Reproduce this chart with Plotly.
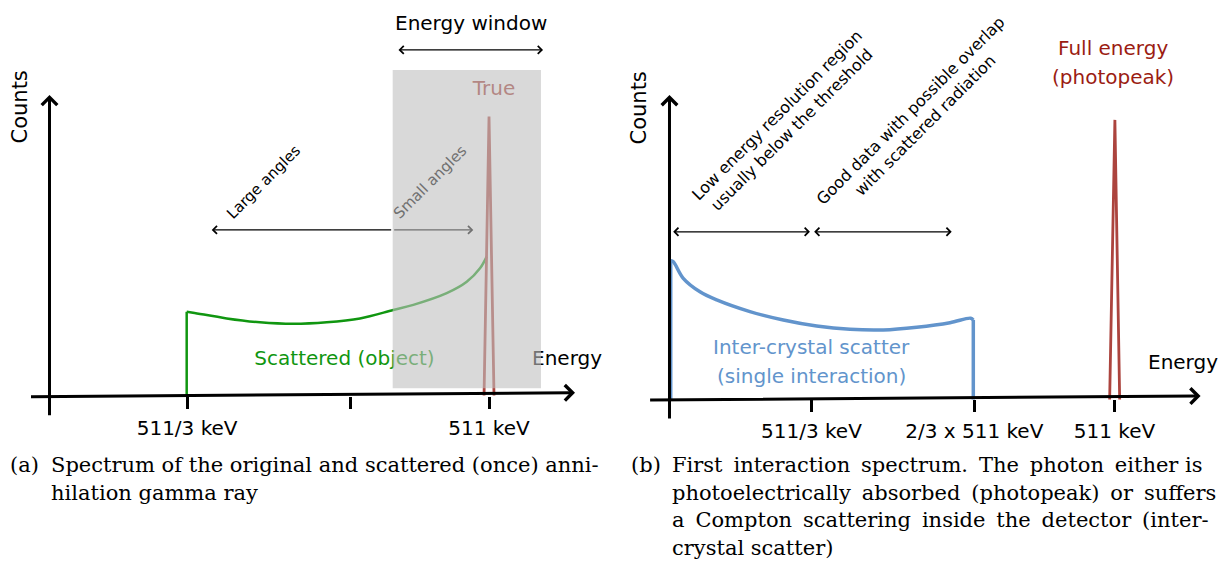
import plotly.graph_objects as go

# ---------------- data ----------------
# (a) scattered-in-object spectrum (energy in keV, counts in arbitrary units)
scatter_energy = [159.5, 159.5, 166.8, 206.0, 244.7, 283.5, 322.3, 361.0, 399.7, 423.0, 461.8, 485.1, 500.5, 508.3]
scatter_counts = [0, 27.9, 27.6, 25.7, 24.4, 23.9, 24.4, 25.7, 28.5, 30.2, 34.1, 37.9, 42.4, 46.3]
true_energy = [505.2, 511.0, 516.8]
true_counts = [0, 93, 0]
ticks_a = [160, 350, 511]
ticklabels_a = ["511/3 keV", "", "511 keV"]
window_a = [399.0, 571.4]          # energy window (keV)

# (b) first interaction spectrum
ict_energy = [1.4, 1.4, 4.4, 15.8, 35.0, 54.2, 92.4, 130.7, 169.0, 207.3, 245.5, 283.9, 322.1, 345.9, 348.9, 348.9]
ict_counts = [0, 46.3, 45.9, 40.4, 35.9, 33.2, 29.3, 26.5, 24.5, 23.4, 23.2, 24.1, 25.6, 27.1, 26.5, 0]
photo_energy = [505.5, 511.5, 517.0]
photo_counts = [0, 93.2, 0]
ticks_b = [163, 350, 511]
ticklabels_b = ["511/3 keV", "2/3 x 511 keV", "511 keV"]

# ---------------- styles ----------------
W, H = 1220, 554        # page body has an 8px margin
OFF = 8
SANS = "DejaVu Sans"
SERIF = "DejaVu Serif"
GREEN = "rgb(16,150,16)"
BLUE = "rgb(98,148,204)"
RED = "rgb(172,68,62)"
DARKRED = "rgb(155,28,18)"
GREY_TXT = "rgb(112,112,112)"
THIN = "\u2009"


def px(x):
    return (x - OFF) / W


def py(y):
    return 1 - (y - OFF) / H


def justify(text, extra):
    """widen the first `extra` word gaps by a thin space (approximate justification)"""
    parts = text.split(" ")
    out = parts[0]
    for i, p in enumerate(parts[1:]):
        out += (" " + THIN if i < extra else " ") + p
    return out


SPLIT = px(614)

fig = go.Figure()

# traces (a)
fig.add_trace(go.Scatter(x=scatter_energy[:2], y=scatter_counts[:2], mode="lines",
                         line=dict(color=GREEN, width=2.5),
                         xaxis="x", yaxis="y", hoverinfo="skip"))
fig.add_trace(go.Scatter(x=scatter_energy[1:], y=scatter_counts[1:], mode="lines",
                         line=dict(color=GREEN, width=2.5, shape="spline", smoothing=1.0),
                         xaxis="x", yaxis="y", hoverinfo="skip"))
fig.add_trace(go.Scatter(x=true_energy, y=true_counts, mode="lines",
                         line=dict(color=RED, width=2.8),
                         xaxis="x", yaxis="y", hoverinfo="skip"))
fig.add_trace(go.Scatter(x=[343.0], y=[11.8], mode="text", text=["Scattered (object)"],
                         textfont=dict(family=SANS, size=20, color=GREEN),
                         xaxis="x", yaxis="y", hoverinfo="skip"))
fig.add_trace(go.Scatter(x=[601.7], y=[11.8], mode="text", text=["Energy"],
                         textfont=dict(family=SANS, size=20, color="black"),
                         xaxis="x", yaxis="y", hoverinfo="skip", cliponaxis=False))
fig.add_trace(go.Scatter(x=[516.8], y=[101.8], mode="text", text=["True"],
                         textfont=dict(family=SANS, size=20, color="rgb(160,50,42)"),
                         xaxis="x", yaxis="y", hoverinfo="skip"))

# traces (b)
fig.add_trace(go.Scatter(x=ict_energy[:2], y=ict_counts[:2], mode="lines",
                         line=dict(color=BLUE, width=3.5),
                         xaxis="x2", yaxis="y2", hoverinfo="skip"))
fig.add_trace(go.Scatter(x=ict_energy[1:-1], y=ict_counts[1:-1], mode="lines",
                         line=dict(color=BLUE, width=3.5, shape="spline", smoothing=1.0),
                         xaxis="x2", yaxis="y2", hoverinfo="skip"))
fig.add_trace(go.Scatter(x=ict_energy[-2:], y=ict_counts[-2:], mode="lines",
                         line=dict(color=BLUE, width=3.5),
                         xaxis="x2", yaxis="y2", hoverinfo="skip"))
fig.add_trace(go.Scatter(x=photo_energy, y=photo_counts, mode="lines",
                         line=dict(color=RED, width=2.8),
                         xaxis="x2", yaxis="y2", hoverinfo="skip"))

axis_common = dict(showgrid=False, zeroline=False, showline=False, ticks="outside",
                   ticklen=12, tickwidth=2.5, tickcolor="black",
                   tickfont=dict(family=SANS, size=20, color="black"),
                   anchor="free", fixedrange=True, ticklabelstandoff=2)

fig.update_layout(
    width=W, height=H, margin=dict(l=0, r=0, t=0, b=0),
    paper_bgcolor="white", plot_bgcolor="white", showlegend=False, hovermode=False,
    xaxis=dict(domain=[0, SPLIT], range=[-48.25, 656.3], tickvals=ticks_a, ticktext=ticklabels_a,
               position=py(395.5), **axis_common),
    yaxis=dict(domain=[0, 1], range=[-55.5, 129.17], visible=False, anchor="x", fixedrange=True),
    xaxis2=dict(domain=[SPLIT, 1], range=[-63.73, 641.4], tickvals=ticks_b, ticktext=ticklabels_b,
                position=py(398.5), **axis_common),
    yaxis2=dict(domain=[0, 1], range=[-54.17, 130.5], visible=False, anchor="x2", fixedrange=True),
)

# energy window (drawn over the spectrum, semi-transparent)
fig.add_shape(type="rect", xref="x", yref="y", x0=window_a[0], x1=window_a[1], y0=2.4, y1=108.5,
              fillcolor="rgba(192,192,192,0.6)", line=dict(width=0), layer="above")

anns = []


def arrow(xh, yh, xt, yt, xr, yr, color="black", width=1.3, head=4, size=1.2, both=False):
    d = dict(x=xh, y=yh, ax=xt, ay=yt, xref=xr, yref=yr, axref=xr, ayref=yr, text="",
             showarrow=True, arrowhead=head, arrowsize=size, arrowwidth=width, arrowcolor=color,
             standoff=0, startstandoff=0)
    if both:
        d.update(arrowside="end+start", startarrowhead=head, startarrowsize=size)
    anns.append(d)


def label(x, y, text, xr, yr, size=20, color="black", angle=0, family=SANS, xanchor="center"):
    anns.append(dict(x=x, y=y, xref=xr, yref=yr, text=text, showarrow=False, textangle=angle,
                     font=dict(family=family, size=size, color=color), xanchor=xanchor,
                     yanchor="middle"))


# (a) axes
arrow(610.97, 0.93, -23.25, -0.4, "x", "y", width=3, head=4, size=1.0)
arrow(0.0, 100.2, 0.0, -7.07, "x", "y", width=3, head=4, size=1.0)
# (a) annotations
arrow(573.8, 115.2, 404.0, 115.2, "x", "y", both=True)
label(490.0, 124.2, "Energy window", "x", "y")
arrow(188.6, 55.2, 399.0, 55.2, "x", "y")
arrow(492.7, 55.2, 399.0, 55.2, "x", "y", color=GREY_TXT)
label(248.8, 71.3, "Large angles", "x", "y", size=15, angle=-45)
label(442.4, 71.2, "Small angles", "x", "y", size=15, angle=-45, color=GREY_TXT)
label(px(19.5), py(107), "Counts", "paper", "paper", size=21, angle=-90)

# (b) axes
arrow(609.9, 1.17, -24.0, -0.17, "x2", "y2", width=3, head=4, size=1.0)
arrow(0.0, 101.5, 0.0, -6.8, "x2", "y2", width=3, head=4, size=1.0)
# (b) annotations
arrow(161.3, 55.9, 2.5, 55.9, "x2", "y2", both=True)
arrow(324.1, 55.9, 164.4, 55.9, "x2", "y2", both=True)
label(132.6, 92.5, "Low energy resolution region<br>usually below the threshold", "x2", "y2",
      size=16, angle=-45)
label(285.4, 93.8, "Good data with possible overlap<br>with scattered radiation", "x2", "y2",
      size=16, angle=-45)
label(509.3, 117.2, "Full energy", "x2", "y2", color=DARKRED)
label(509.3, 107.5, "(photopeak)", "x2", "y2", color=DARKRED)
label(163.2, 17.5, "Inter-crystal scatter", "x2", "y2", color=BLUE)
label(163.6, 7.8, "(single interaction)", "x2", "y2", color=BLUE)
label(589.7, 12.5, "Energy", "x2", "y2")
label(px(638.5), py(108), "Counts", "paper", "paper", size=21, angle=-90)

# captions
cap = dict(xr="paper", yr="paper", size=21, family=SERIF, xanchor="left")
label(px(8), py(465), "(a)", **cap)
label(px(49), py(465), "Spectrum of the original and scattered (once) anni-", **cap)
label(px(49), py(493), "hilation gamma ray", **cap)
label(px(629), py(465), "(b)", **cap)
label(px(670), py(465), justify("First interaction spectrum. The photon either is", 5), **cap)
label(px(670), py(493), justify("photoelectrically absorbed (photopeak) or suffers", 4), **cap)
label(px(670), py(520), justify("a Compton scattering inside the detector (inter-", 6), **cap)
label(px(670), py(548), "crystal scatter)", **cap)

fig.update_layout(annotations=anns)

fig.write_html("out.html")
